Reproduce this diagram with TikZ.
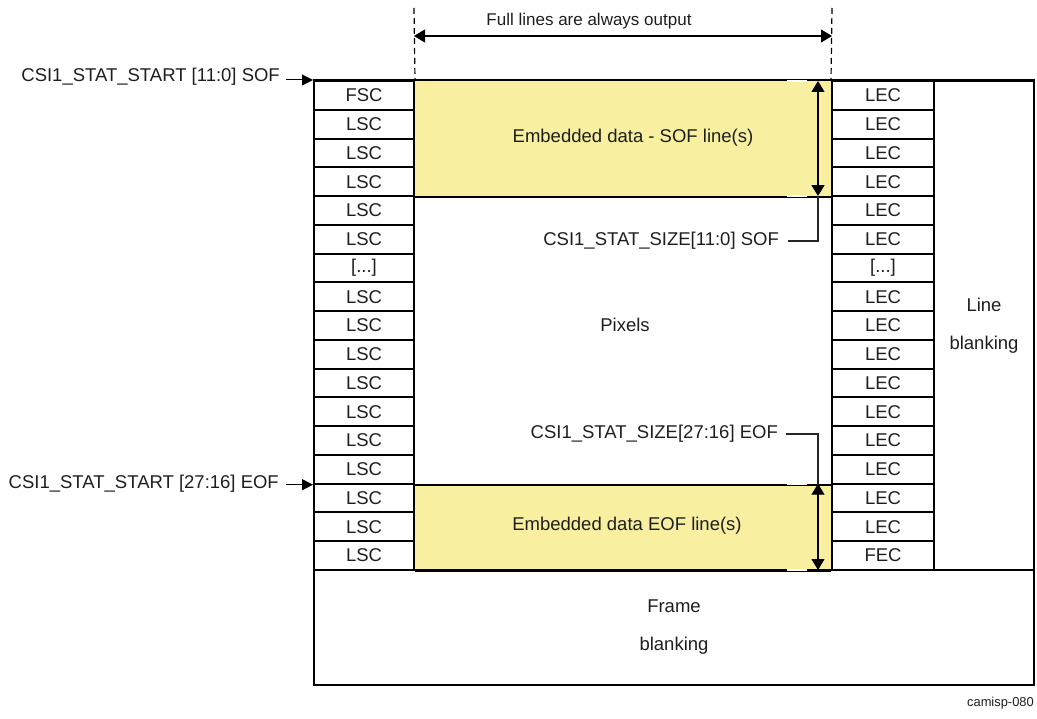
\documentclass[tikz,border=0pt]{standalone}
\usepackage{fontspec}
\setmainfont{Liberation Sans}
\usetikzlibrary{arrows.meta,calc}
\definecolor{embyellow}{RGB}{248,240,160}
\definecolor{txt}{RGB}{30,30,30}
\newcommand{\mydots}{[...]}
\begin{document}
\begin{tikzpicture}[x=1pt,y=-1pt,
  font=\fontsize{18.5}{22}\selectfont, text=txt,
  cell/.style={draw=black, line width=2pt, minimum height=28.765pt, inner sep=0pt},
  lcell/.style={cell, minimum width=100pt},
  rcell/.style={cell, minimum width=102pt},
  bigbox/.style={draw=black, line width=2pt, inner sep=0pt, align=center},
  hline/.style={draw=black, line width=2pt},
  gapline/.style={draw=white, line width=2.6pt},
  tip/.style={-{Triangle[length=11pt,width=11pt]}},
  dtip/.style={{Triangle[length=11pt,width=13pt]}-{Triangle[length=11pt,width=13pt]}, line width=1.1pt},
  dashline/.style={draw=black, line width=1.2pt, dash pattern=on 6pt off 4pt},
  leader/.style={draw=black!85, line width=2.4pt},
  lbl/.style={inner sep=0pt}
]
\useasboundingbox (0,0) rectangle (1037,719);

% yellow embedded data areas
\fill[embyellow] (414,81) rectangle (832,196.06);
\fill[embyellow] (414,483.7) rectangle (832,570);

% left column
\foreach \t [count=\i from 0] in {FSC,LSC,LSC,LSC,LSC,LSC,\mydots,LSC,LSC,LSC,LSC,LSC,LSC,LSC,LSC,LSC,LSC}
  \node[lcell] (l\i) at (364,{81+(\i+0.5)*28.765}) {\t};
% right column
\foreach \t [count=\i from 0] in {LEC,LEC,LEC,LEC,LEC,LEC,\mydots,LEC,LEC,LEC,LEC,LEC,LEC,LEC,LEC,LEC,FEC}
  \node[rcell] (r\i) at (883,{81+(\i+0.5)*28.765}) {\t};

% line blanking and frame blanking
\node[bigbox, minimum width=100pt, minimum height=489pt] (lb) at (984,325.5) {Line\\[16pt]blanking};
\node[bigbox, minimum width=720pt, minimum height=115pt] (fb) at (674,627.5) {Frame\\[16pt]blanking};

% horizontal borders of the pixel area
\draw[hline] (l0.north west) -- (lb.north east);
\draw[hline] (l3.south east) -- (r3.south west);
\draw[hline] (l13.south east) -- (r13.south west);
\draw[hline] (l16.south east) -- (r16.south west);

% small gaps in the borders
\coordinate (g1a) at (787,81);  \coordinate (g1b) at (807,81);
\coordinate (g2a) at (787,196.06); \coordinate (g2b) at (807,196.06);
\coordinate (g3a) at (787,483.7); \coordinate (g3b) at (807,483.7);
\coordinate (g4a) at (787,570); \coordinate (g4b) at (807,570);
\draw[gapline] (g1a) -- (g1b);
\draw[gapline] (g2a) -- (g2b);
\draw[gapline] (g3a) -- (g3b);
\draw[gapline] (g4a) -- (g4b);

% texts inside
\node[lbl] (sofdata) at (633,138) {Embedded data - SOF line(s)};
\node[lbl] (eofdata) at (627,526) {Embedded data EOF line(s)};
\node[lbl] (pixels) at (625,325) {Pixels};

% vertical size arrows
\coordinate (sofTop) at (818,81);
\coordinate (sofBot) at (818,196.06);
\coordinate (eofTop) at (818,483.7);
\coordinate (eofBot) at (818,570);
\draw[dtip] (sofTop) -- (sofBot);
\draw[dtip] (eofTop) -- (eofBot);

% size labels and leaders
\node[lbl, anchor=east] (sofsize) at (779,241) {CSI1\_STAT\_SIZE[11:0] SOF};
\node[lbl, anchor=east] (eofsize) at (778,434) {CSI1\_STAT\_SIZE[27:16] EOF};
\draw[leader] (sofsize.east) ++(9,0) -| (sofBot);
\draw[leader] (eofsize.east) ++(8,0) -| ([yshift=-1pt]eofTop);

% start labels and arrows
\node[lbl, anchor=east] (sofstart) at (280,77) {CSI1\_STAT\_START [11:0] SOF};
\node[lbl, anchor=east] (eofstart) at (279,484) {CSI1\_STAT\_START [27:16] EOF};
\draw[tip, line width=1pt] (sofstart.east |- l0.north west) ++(6,0) -- (l0.north west);
\draw[tip, line width=1pt] (eofstart.east |- l13.south west) ++(7,0) -- (l13.south west);

% full lines are always output
\coordinate (dl) at (414,8);
\coordinate (dr) at (832,8);
\coordinate (al) at (414,36);
\coordinate (ar) at (832,36);
\draw[dashline] (dl) -- (l0.north east);
\draw[dashline] (dr) -- (r0.north west);
\draw[dtip] (al) -- (ar);
\node[lbl, font=\fontsize{17}{20}\selectfont] (full) at (589,21) {Full lines are always output};

% figure id
\node[lbl, anchor=east, font=\fontsize{12.9}{15}\selectfont] (figid) at (1034,703) {camisp-080};
\end{tikzpicture}
\end{document}
